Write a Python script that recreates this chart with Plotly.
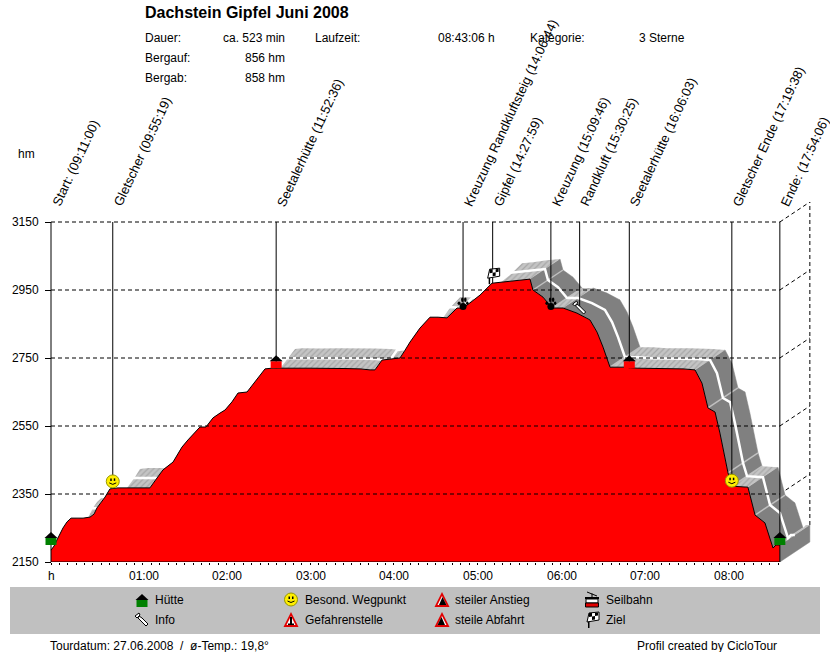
import plotly.graph_objects as go

# profile, minutes since start / height in hm
minutes = [0, 2.2, 4.3, 8.6, 11.5, 14.4, 17.2, 23, 28, 30.9, 33, 38.8, 42.3, 48.1, 60.3, 71, 76.1, 80.4, 87.6, 94,
           98.3, 106.9, 111.2, 116.3, 121.3, 124.9, 129.9, 134.2, 140.7, 146.4, 153.6, 158.6, 171.5, 185.9, 211,
           221.8, 229, 232.5, 237.6, 250.5, 254.1, 257.7, 264.8, 272, 277.8, 284.2, 291.4, 295.7, 300.7, 307.9,
           316.5, 324.4, 334.4, 343.8, 345.9, 353.1, 359.6, 367.5, 377.5, 386.8, 391.9, 396.2, 401.2, 410.5, 420.6,
           437, 453.6, 462.2, 467.2, 471.5, 476.6, 480.1, 485.9, 488.8, 500.2, 505.3, 512.4, 518.2, 520.3, 523.1]
height = [2185, 2197, 2215, 2250, 2268, 2279, 2279, 2279, 2282, 2291, 2309, 2341, 2365, 2368, 2368, 2368, 2397, 2421,
          2444, 2488, 2509, 2547, 2547, 2574, 2588, 2597, 2621, 2647, 2650, 2679, 2718, 2720, 2719, 2720, 2719,
          2718, 2715, 2715, 2744, 2750, 2773, 2797, 2838, 2870, 2870, 2868, 2897, 2897, 2912, 2935,
          2970, 2973, 2979, 2982, 2950, 2929, 2897, 2897, 2882, 2862, 2826, 2782, 2723, 2723, 2720,
          2720, 2718, 2715, 2676, 2603, 2591, 2529, 2412, 2373, 2370, 2288, 2265, 2191, 2200, 2200]

# waypoints
wp_names = ["Start:", "Gletscher", "Seetalerhütte", "Kreuzung Randkluftsteig", "Gipfel", "Kreuzung", "Randkluft",
            "Seetalerhütte", "Gletscher Ende", "Ende:"]
wp_clock = ["09:11:00", "09:55:19", "11:52:36", "14:06:44", "14:27:59", "15:09:46", "15:30:25", "16:06:03",
            "17:19:38", "17:54:06"]
wp_icon = ["hut_green", "smile", "hut_red", "paw", "flag", "paw", "pin", "hut_red", "smile", "hut_green"]
wp_icon_hm = [2200, 2368, 2720, 2897, 2970, 2897, 2897, 2720, 2370, 2200]
wp_line_end = [2150, 2368, 2720, 2897, 2970, 2897, 2897, 2720, 2370, 2150]

grid_hm = [2150, 2350, 2550, 2750, 2950, 3150]
hour_ticks = [0, 60, 120, 180, 240, 300, 360, 420, 480]
hour_labels = ["h", "01:00", "02:00", "03:00", "04:00", "05:00", "06:00", "07:00", "08:00"]

W, H = 830, 652
MIN_PER_PX = 60 / 83.6
HM_PER_PX = 1 / 0.34
# the 3d depth of the ribbon
DX = 30 * MIN_PER_PX
DY = 20 * HM_PER_PX
FONT = "Liberation Sans"


def clock_to_min(s):
    h, m, sec = s.split(":")
    return int(h) * 60 + int(m) + int(sec) / 60


start = clock_to_min(wp_clock[0])
wp_min = [clock_to_min(c) - start for c in wp_clock]
end_min = minutes[-1]

fig = go.Figure()

# back wall + diagonals
for h in grid_hm[1:]:
    fig.add_trace(go.Scatter(x=[end_min, end_min + DX], y=[h, h + DY], mode="lines",
                             line=dict(color="black", width=1, dash="4px,3px")))
fig.add_trace(go.Scatter(x=[end_min + DX, end_min + DX], y=[height[-1] + DY, grid_hm[-1] + DY], mode="lines",
                         line=dict(color="black", width=1, dash="4px,3px")))

# ribbon quads, dark when going down
dark_x, dark_y, light_x, light_y, band_x, band_y = [], [], [], [], [], []
slopes = [(height[i + 1] - height[i]) / (minutes[i + 1] - minutes[i]) for i in range(len(minutes) - 1)]
for i in range(len(minutes) - 1):
    qx = [minutes[i], minutes[i + 1], minutes[i + 1] + DX, minutes[i] + DX, minutes[i], None]
    qy = [height[i], height[i + 1], height[i + 1] + DY, height[i] + DY, height[i], None]
    if slopes[i] < -1.2:
        dark_x += qx
        dark_y += qy
    else:
        light_x += qx
        light_y += qy
    # light stripe where a steep part flattens out
    if i > 0 and slopes[i - 1] < -1.2 and slopes[i] > slopes[i - 1] + 2:
        band_x += [minutes[i], minutes[i] + DX, None]
        band_y += [height[i], height[i] + DY, None]
# end face and floor
dark_x += [end_min, end_min + DX, end_min + DX, end_min, end_min]
dark_y += [grid_hm[0], grid_hm[0] + DY, height[-1] + DY, height[-1], grid_hm[0]]

fig.add_trace(go.Scatter(x=dark_x, y=dark_y, mode="lines", fill="toself", fillcolor="#808080",
                         line=dict(color="#808080", width=0.5)))
fig.add_trace(go.Scatter(x=light_x, y=light_y, mode="lines", fill="toself", fillcolor="#c0c0c0",
                         fillpattern=dict(shape="/", bgcolor="#c4c4c4", fgcolor="#8c8c8c", size=4, solidity=0.3),
                         line=dict(color="#c0c0c0", width=0)))
fig.add_trace(go.Scatter(x=band_x, y=band_y, mode="lines", line=dict(color="#c0c0c0", width=1.5)))
# white middle line of the ribbon
fig.add_trace(go.Scatter(x=[m + DX / 2 for m in minutes], y=[h + DY / 2 for h in height], mode="lines",
                         line=dict(color="white", width=2.5)))

# profile
fig.add_trace(go.Scatter(x=minutes, y=height, mode="lines", fill="tozeroy", fillcolor="#ff0000",
                         line=dict(color="black", width=1)))

# horizontal grid
for h in grid_hm[1:]:
    fig.add_trace(go.Scatter(x=[0, end_min], y=[h, h], mode="lines",
                             line=dict(color="black", width=1, dash="4px,3px")))
fig.add_trace(go.Scatter(x=[0, end_min], y=[grid_hm[0], grid_hm[0]], mode="lines", line=dict(color="black", width=1)))

# waypoint lines
for m, e in zip(wp_min, wp_line_end):
    fig.add_trace(go.Scatter(x=[m, m], y=[e, grid_hm[-1]], mode="lines", line=dict(color="black", width=1)))


def shape_at(kind, x, y, xref, yref, color, line_color=None, lw=0, **kw):
    d = dict(type=kind, xref=xref, yref=yref, xsizemode="pixel", ysizemode="pixel", xanchor=x, yanchor=y,
             fillcolor=color, line=dict(color=line_color or color, width=lw), layer="above")
    d.update(kw)
    return d


def draw_icon(name, x, y, xref="x", yref="y"):
    out = []

    def p(path, color, line_color=None, lw=0):
        out.append(shape_at("path", x, y, xref, yref, color, line_color, lw, path=path))

    def c(x0, y0, x1, y1, color, line_color=None, lw=0):
        out.append(shape_at("circle", x, y, xref, yref, color, line_color, lw, x0=x0, y0=y0, x1=x1, y1=y1))

    if name in ("hut_green", "hut_red"):
        p("M-5.5,0 L5.5,0 L5.5,7 L-5.5,7 Z", "#008000" if name == "hut_green" else "#ff0000")
        p("M-6.5,7 L0,13 L6.5,7 Z", "black")
    elif name == "smile":
        c(-6.5, 0, 6.5, 13, "#ffee00", "#999900", 1)
        p("M-2.5,7 L-1,7 L-1,9.5 L-2.5,9.5 Z", "black")
        p("M1,7 L2.5,7 L2.5,9.5 L1,9.5 Z", "black")
        p("M-3.5,5 Q0,2 3.5,5", "rgba(0,0,0,0)", "black", 1)
    elif name == "paw":
        c(-3.5, -2, 3.5, 5, "black")
        c(-5.5, 3, -2.5, 6.5, "black")
        c(-2, 6, 0.5, 10.5, "black")
        c(1, 6, 3.5, 10.5, "black")
        c(3, 3, 5.5, 6.5, "black")
    elif name == "flag":
        p("M-4,-1 L-2.5,-1 L-2.5,6 L-4,6 Z", "black")
        p("M-5,5 L7,7 L7,15 L-3,14 Z", "white", "black", 1)
        p("M-3,10 L0,10.5 L0,14 L-3,14 Z", "black")
        p("M3,11 L6,11.5 L6,14.5 L3,14 Z", "black")
        p("M0,7 L3,7.5 L3,11 L0,10.5 Z", "black")
    elif name == "pin":
        p("M-3,4 L0,2 L6,-4 L4,-6 L-2,0 L-4,2 Z", "white", "black", 1)
        p("M-7,4 L-3,7 L-2,5 L-5,2 Z", "white", "black", 1)
    elif name in ("warn", "up", "down"):
        p("M-7.5,-7 L7.5,-7 L0,8 Z", "#e00000")
        p("M-4.5,-5 L4.5,-5 L0,4 Z", "white")
        if name == "warn":
            p("M-1,-4 L1,-4 L1,3 L-1,3 Z", "black")
            p("M-3,-5 L3,-5 L3,-3.5 L-3,-3.5 Z", "black")
        elif name == "up":
            p("M-3,-5 L4.5,-5 L0.5,3 Z", "black")
        else:
            p("M-4.5,-5 L3,-5 L-0.5,3 Z", "black")
    elif name == "lift":
        p("M-5,8 L5,4", "rgba(0,0,0,0)", "black", 1)
        p("M-0.5,6.5 L0.5,6.5 L0.5,3 L-0.5,3 Z", "black")
        p("M-7,3 L7,3 L7,1 L-7,1 Z", "black")
        p("M-6,1 L6,1 L6,-3 L-6,-3 Z", "white", "black", 1)
        p("M-6.5,-3 L6.5,-3 L6.5,-7 L-6.5,-7 Z", "#e00000", "black", 1)
    return out


shapes = []
# legend box
shapes.append(dict(type="rect", xref="paper", yref="paper", x0=10 / W, x1=820 / W, y0=1 - 634 / H, y1=1 - 587 / H,
                   fillcolor="#c0c0c0", line=dict(width=0), layer="below"))
for m, hm, name in zip(wp_min, wp_icon_hm, wp_icon):
    shapes += draw_icon(name, m, hm)

# legend
legend_labels = ["Hütte", "Info", "Besond. Wegpunkt", "Gefahrenstelle", "steiler Anstieg", "steile Abfahrt",
                 "Seilbahn", "Ziel"]
legend_icons = ["hut_green", "pin", "smile", "warn", "up", "down", "lift", "flag"]
legend_px = [(142, 607), (142, 620), (291, 606), (291, 620), (442, 600), (442, 620), (592, 600), (592, 627)]
legend_text_px = [155, 155, 305, 305, 455, 455, 606, 606]
legend_text_py = [600, 620, 600, 620, 600, 620, 600, 620]
for name, (px, py) in zip(legend_icons, legend_px):
    shapes += draw_icon(name, px / W, 1 - py / H, "paper", "paper")


def text(x, y, s, size=12, anchor="left", bold=False):
    fig.add_annotation(x=x / W, y=1 - y / H, xref="paper", yref="paper", text="<b>%s</b>" % s if bold else s,
                       showarrow=False, xanchor=anchor, yanchor="middle",
                       font=dict(family=FONT, size=size, color="black"), borderpad=0, borderwidth=0)


for s, tx, ty in zip(legend_labels, legend_text_px, legend_text_py):
    text(tx, ty, s)

text(145, 13, "Dachstein Gipfel Juni 2008", size=16, bold=True)
text(145, 38, "Dauer:")
text(285, 38, "ca. 523 min", anchor="right")
text(315, 38, "Laufzeit:")
text(495, 38, "08:43:06 h", anchor="right")
text(530, 38, "Kategorie:")
text(639, 38, "3 Sterne")
text(145, 58, "Bergauf:")
text(285, 58, "856 hm", anchor="right")
text(145, 78, "Bergab:")
text(285, 78, "858 hm", anchor="right")
text(18, 154, "hm")
text(50, 646, "Tourdatum: 27.06.2008  /  ø-Temp.: 19,8°")
text(637, 646, "Profil created by CicloTour")

# slanted waypoint labels
for m, name, clock in zip(wp_min, wp_names, wp_clock):
    fig.add_annotation(x=m, y=grid_hm[-1], text="%s (%s)" % (name, clock), textangle=-65, showarrow=False,
                       xanchor="left", yanchor="bottom", yshift=11, xshift=-5,
                       font=dict(family=FONT, size=13, color="black"))

# hour labels sit a bit right of their ticks
for m, s in zip(hour_ticks, hour_labels):
    fig.add_annotation(x=m, y=grid_hm[0], text=s, showarrow=False, xanchor="center", yanchor="top", yshift=-5,
                       xshift=0 if s == "h" else 9, font=dict(family=FONT, size=12, color="black"))

fig.update_layout(
    width=W, height=H, margin=dict(l=0, r=0, t=0, b=0), paper_bgcolor="white", plot_bgcolor="rgba(0,0,0,0)",
    showlegend=False, shapes=shapes,
    xaxis=dict(domain=[30 / W, 811 / W], range=[-21 * MIN_PER_PX, 760 * MIN_PER_PX], tickmode="array",
               tickvals=hour_ticks, ticktext=[""] * len(hour_ticks), ticks="outside", ticklen=4, tickcolor="black",
               showgrid=False, zeroline=False, showline=False, automargin=False,
               minor=dict(ticks="outside", ticklen=2, tickcolor="black", tickvals=[i * 6 for i in range(88)],
                          showgrid=False)),
    yaxis=dict(domain=[1 - 562 / H, 1 - 202 / H], range=[grid_hm[0], grid_hm[-1] + DY], tickmode="array",
               tickvals=grid_hm, ticks="outside", ticklen=6, tickcolor="black", showgrid=False, zeroline=False,
               showline=False, automargin=False, anchor="free", position=51 / W, ticklabelstandoff=4,
               tickfont=dict(family=FONT, size=12, color="black")),
)

fig.write_html("out.html", config=dict(displayModeBar=False), post_script="document.body.style.margin='0';")
